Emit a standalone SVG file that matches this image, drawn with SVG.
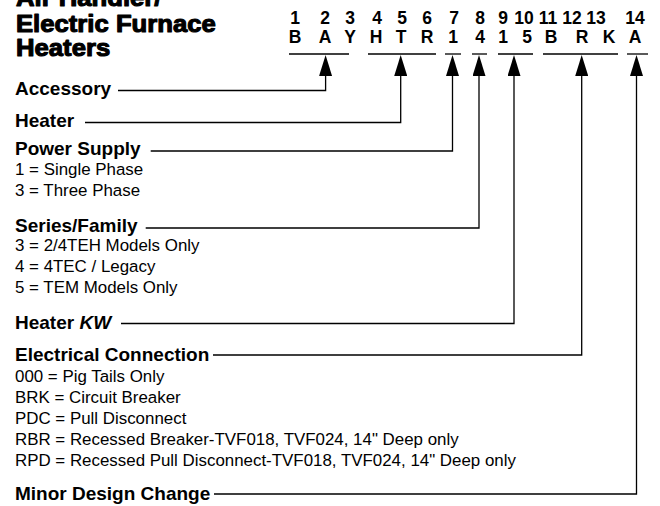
<svg xmlns="http://www.w3.org/2000/svg" width="660" height="506" viewBox="0 0 660 506">
<style>
text{font-family:"Liberation Sans",Arial,Helvetica,sans-serif;fill:#000}
.title{font-size:24px;font-weight:bold;stroke:#000;stroke-width:1.1;stroke-linejoin:round}
.hd{font-size:17.5px;font-weight:bold;text-anchor:middle}
.lbl{font-size:19px;font-weight:bold}
.opt{font-size:16.9px}
.ul{stroke:#000;stroke-width:1.3}
.conn{fill:none;stroke:#000;stroke-width:1.3;marker-end:url(#ah)}
</style>
<defs>
<marker id="ah" markerUnits="userSpaceOnUse" viewBox="0 0 21 13" refX="0" refY="6.5" markerWidth="21" markerHeight="13" orient="auto">
<path d="M0,0 L21,6.5 L0,13 z" fill="#000"/>
</marker>
</defs>
<g id="title" transform="translate(16,0) scale(1.07,1)">
<text class="title" x="0" y="6">Air Handler/</text>
<text class="title" x="0" y="32">Electric Furnace</text>
<text class="title" x="0" y="56">Heaters</text>
</g>
<g id="header">
<text class="hd" x="295" y="24">1</text>
<text class="hd" x="325" y="24">2</text>
<text class="hd" x="350" y="24">3</text>
<text class="hd" x="377" y="24">4</text>
<text class="hd" x="402" y="24">5</text>
<text class="hd" x="427" y="24">6</text>
<text class="hd" x="454" y="24">7</text>
<text class="hd" x="480" y="24">8</text>
<text class="hd" x="503" y="24">9</text>
<text class="hd" x="524" y="24">10</text>
<text class="hd" x="548" y="24">11</text>
<text class="hd" x="572" y="24">12</text>
<text class="hd" x="596" y="24">13</text>
<text class="hd" x="635" y="24">14</text>
<text class="hd" x="295" y="43">B</text>
<text class="hd" x="325" y="43">A</text>
<text class="hd" x="350" y="43">Y</text>
<text class="hd" x="376" y="43">H</text>
<text class="hd" x="401" y="43">T</text>
<text class="hd" x="427" y="43">R</text>
<text class="hd" x="453" y="43">1</text>
<text class="hd" x="480" y="43">4</text>
<text class="hd" x="503" y="43">1</text>
<text class="hd" x="527" y="43">5</text>
<text class="hd" x="551" y="43">B</text>
<text class="hd" x="582" y="43">R</text>
<text class="hd" x="609" y="43">K</text>
<text class="hd" x="635" y="43">A</text>
<line class="ul" x1="289" y1="54" x2="349" y2="54"/>
<line class="ul" x1="368" y1="54" x2="436" y2="54"/>
<line class="ul" x1="445" y1="54" x2="461" y2="54"/>
<line class="ul" x1="472" y1="54" x2="487" y2="54"/>
<line class="ul" x1="498" y1="54" x2="533" y2="54"/>
<line class="ul" x1="543" y1="54" x2="618" y2="54"/>
<line class="ul" x1="627" y1="54" x2="648" y2="54"/>
</g>
<g id="accessory">
<text class="lbl" x="15" y="95">Accessory</text>
</g>
<g id="heater">
<text class="lbl" x="15" y="127">Heater</text>
</g>
<g id="power-supply">
<text class="lbl" x="15" y="155">Power Supply</text>
<text class="opt" x="15" y="175">1 = Single Phase</text>
<text class="opt" x="15" y="196">3 = Three Phase</text>
</g>
<g id="series-family">
<text class="lbl" x="15" y="232">Series/Family</text>
<text class="opt" x="15" y="251">3 = 2/4TEH Models Only</text>
<text class="opt" x="15" y="272">4 = 4TEC / Legacy</text>
<text class="opt" x="15" y="293">5 = TEM Models Only</text>
</g>
<g id="heater-kw">
<text class="lbl" x="15" y="329">Heater <tspan font-style="italic">KW</tspan></text>
</g>
<g id="electrical-connection">
<text class="lbl" x="15" y="361">Electrical Connection</text>
<text class="opt" x="15" y="382">000 = Pig Tails Only</text>
<text class="opt" x="15" y="403">BRK = Circuit Breaker</text>
<text class="opt" x="15" y="424">PDC = Pull Disconnect</text>
<text class="opt" x="15" y="445">RBR = Recessed Breaker-TVF018, TVF024, 14" Deep only</text>
<text class="opt" x="15" y="466">RPD = Recessed Pull Disconnect-TVF018, TVF024, 14" Deep only</text>
</g>
<g id="minor-design-change">
<text class="lbl" x="15" y="500">Minor Design Change</text>
</g>
<g id="connectors">
<polyline class="conn" points="118,90.5 325.6,90.5 325.6,76"/>
<polyline class="conn" points="85,122.5 400.7,122.5 400.7,76"/>
<polyline class="conn" points="150.7,151 452.5,151 452.5,76"/>
<polyline class="conn" points="145.7,228 479,228 479,76"/>
<polyline class="conn" points="121,323.5 514,323.5 514,76"/>
<polyline class="conn" points="213,355 581.7,355 581.7,76"/>
<polyline class="conn" points="214,494 636.5,494 636.5,76"/>
</g>
</svg>
